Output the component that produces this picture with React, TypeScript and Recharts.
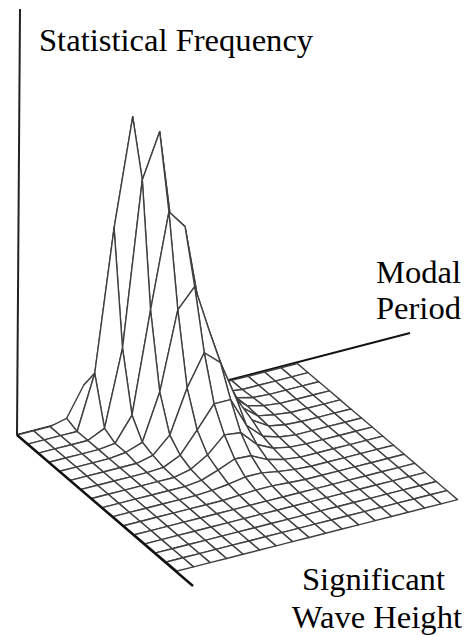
import { Scatter, ScatterChart, XAxis, YAxis } from 'recharts';

const WIDTH = 468;
const HEIGHT = 635;

// surface height, one list per wave height step
const row0 = [0, 0, 0, 4, 33, 22, 70, 80, 50, 20, 8, 2, 0, 0, 0, 0, 0, 0];
const row1 = [0, 0, 0, 0, 54, 195, 302, 190, 130, 60, 25, 8, 2, 0, 0, 0, 0, 0];
const row2 = [0, 0, 0, 0, 8, 84, 248, 292, 175, 100, 45, 15, 5, 1, 0, 0, 0, 0];
const row3 = [0, 0, 0, 0, 2, 26, 127, 221, 202, 115, 55, 20, 6, 2, 0, 0, 0, 0];
const row4 = [0, 0, 0, 0, 2, 8, 54, 132, 151, 100, 52, 18, 5, 2, 0, 0, 0, 0];
const row5 = [0, 0, 0, 0, 0, 4, 20, 63, 94, 80, 40, 14, 4, 1, 0, 0, 0, 0];
const row6 = [0, 0, 0, 0, 0, 1, 9, 30, 52, 52, 22, 7, 2, 0, 0, 0, 0, 0];
const row7 = [0, 0, 0, 0, 0, 0, 4, 14, 30, 28, 12, 4, 1, 0, 0, 0, 0, 0];
const row8 = [0, 0, 0, 0, 0, 0, 2, 8, 15, 14, 6, 2, 0, 0, 0, 0, 0, 0];
const row9 = [0, 0, 0, 0, 0, 0, 1, 3, 6, 6, 3, 1, 0, 0, 0, 0, 0, 0];
const row10 = [0, 0, 0, 0, 0, 0, 0, 1, 2, 2, 1, 0, 0, 0, 0, 0, 0, 0];
const row11 = [0, 0, 0, 0, 0, 0, 0, 0, 0, 0, 0, 0, 0, 0, 0, 0, 0, 0];
const row12 = [0, 0, 0, 0, 0, 0, 0, 0, 0, 0, 0, 0, 0, 0, 0, 0, 0, 0];
const row13 = [0, 0, 0, 0, 0, 0, 0, 0, 0, 0, 0, 0, 0, 0, 0, 0, 0, 0];
const row14 = [0, 0, 0, 0, 0, 0, 0, 0, 0, 0, 0, 0, 0, 0, 0, 0, 0, 0];
const row15 = [0, 0, 0, 0, 0, 0, 0, 0, 0, 0, 0, 0, 0, 0, 0, 0, 0, 0];
const rows = [row0, row1, row2, row3, row4, row5, row6, row7, row8, row9, row10, row11, row12, row13, row14, row15];

// oblique projection of the grid
const project = (u: number, v: number, z: number) => ({
  x: 17 + 16.5 * u + 10.67 * v + 0.02 * z,
  y: 435 - 4.2 * u + 9.07 * v - z,
});

const heightAxis = [{ x: 17, y: 435 }, { x: 20, y: 9 }];
const periodAxis = [{ x: 17, y: 435 }, { x: 410, y: 333 }];
const waveAxis = [{ x: 17, y: 435 }, { x: 193, y: 586 }];

// back to front, so nearer cells cover what is behind them
const cells: { x: number; y: number }[][] = [];
for (let v = 0; v < rows.length - 1; v++) {
  for (let u = rows[0].length - 2; u >= 0; u--) {
    cells.push([
      project(u, v, rows[v][u]),
      project(u + 1, v, rows[v][u + 1]),
      project(u + 1, v + 1, rows[v + 1][u + 1]),
      project(u, v + 1, rows[v + 1][u]),
    ]);
  }
}

const noDot = () => <g />;

function Cell(props: any) {
  const d = props.points.map((p: any, i: number) => `${i ? 'L' : 'M'}${p.x},${p.y}`).join(' ') + ' Z';
  return <path d={d} fill="#fff" stroke="#404040" strokeWidth={1.4} strokeLinejoin="round" />;
}

const labelStyle = { fontFamily: '"Liberation Serif", serif', fontSize: 32.6, fill: '#000' };

export default function App() {
  return (
    <div style={{ position: 'absolute', left: 0, top: 0, width: WIDTH, height: HEIGHT, background: '#fff' }}>
      <ScatterChart width={WIDTH} height={HEIGHT} margin={{ top: 0, right: 0, bottom: 0, left: 0 }}>
        <XAxis type="number" dataKey="x" domain={[0, WIDTH]} hide />
        <YAxis type="number" dataKey="y" domain={[0, HEIGHT]} reversed hide />
        <Scatter data={heightAxis} shape={noDot} line={{ stroke: '#222', strokeWidth: 2 }} fill="#222" isAnimationActive={false} />
        <Scatter data={periodAxis} shape={noDot} line={{ stroke: '#111', strokeWidth: 2 }} fill="#111" isAnimationActive={false} />
        {cells.map((cell, i) => (
          <Scatter key={i} data={cell} shape={noDot} line={Cell} isAnimationActive={false} />
        ))}
        <Scatter data={waveAxis} shape={noDot} line={{ stroke: '#111', strokeWidth: 2.4 }} fill="#111" isAnimationActive={false} />
        <text x={39} y={51} {...labelStyle}>Statistical Frequency</text>
        <text x={461} y={283} textAnchor="end" {...labelStyle}>Modal</text>
        <text x={461} y={319} textAnchor="end" {...labelStyle}>Period</text>
        <text x={302} y={590} {...labelStyle}>Significant</text>
        <text x={462} y={628} textAnchor="end" {...labelStyle}>Wave Height</text>
      </ScatterChart>
    </div>
  );
}
